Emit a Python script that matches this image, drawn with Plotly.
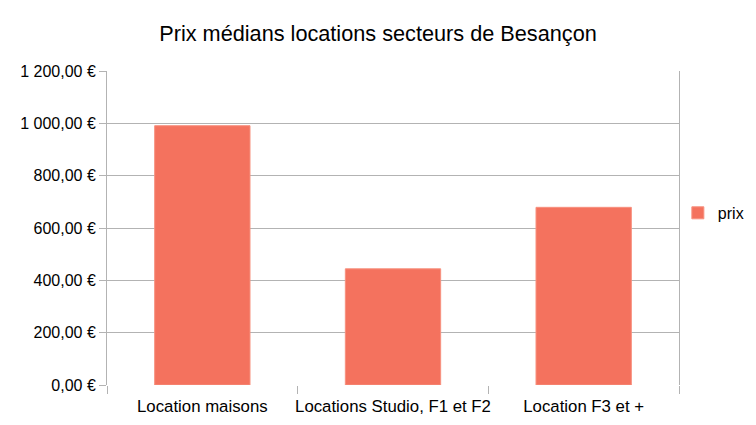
import plotly.graph_objects as go

# ── Data ──────────────────────────────────────────────
categories = ["Location maisons", "Locations Studio, F1 et F2", "Location F3 et +"]
prix = [991, 444, 679]
y_ticks = [0, 200, 400, 600, 800, 1000, 1200]
y_tick_labels = ["0,00 €", "200,00 €", "400,00 €", "600,00 €", "800,00 €", "1 000,00 €", "1 200,00 €"]

grid = "#b3b3b3"

fig = go.Figure(go.Bar(
    x=categories,
    y=prix,
    name="prix",
    marker=dict(color="#F4725E", line=dict(color="#F7917F", width=1)),
    showlegend=True,
))

# page body keeps its 8px margin, so the figure is sized to fit inside it
fig.update_layout(
    title=dict(
        text="Prix médians locations secteurs de Besançon",
        x=0.5, xanchor="center", y=0.939, yanchor="middle",
        font=dict(family="Liberation Sans", size=21.7, color="#000000"),
    ),
    font=dict(family="Liberation Sans", size=16, color="#000000"),
    plot_bgcolor="white",
    paper_bgcolor="white",
    width=740,
    height=409,
    bargap=0.5,
    margin=dict(l=99, r=69, t=63, b=32, autoexpand=False),
    legend=dict(x=0.998, y=0.548, xanchor="left", yanchor="middle",
                itemwidth=30, font=dict(size=16), bgcolor="rgba(0,0,0,0)"),
    xaxis=dict(
        ticks="outside", tickson="boundaries", ticklen=8, tickcolor=grid,
        tickangle=0, tickfont=dict(size=16.8), ticklabelstandoff=9,
        showgrid=False, showline=False,
    ),
    yaxis=dict(
        range=[0, 1200], tickvals=y_ticks, ticktext=y_tick_labels,
        showgrid=True, gridcolor=grid, gridwidth=1,
        showline=True, linecolor=grid, linewidth=1, mirror=True,
        ticks="outside", ticklen=7, tickcolor=grid,
        zeroline=False,
    ),
)

fig.write_html("out.html")
